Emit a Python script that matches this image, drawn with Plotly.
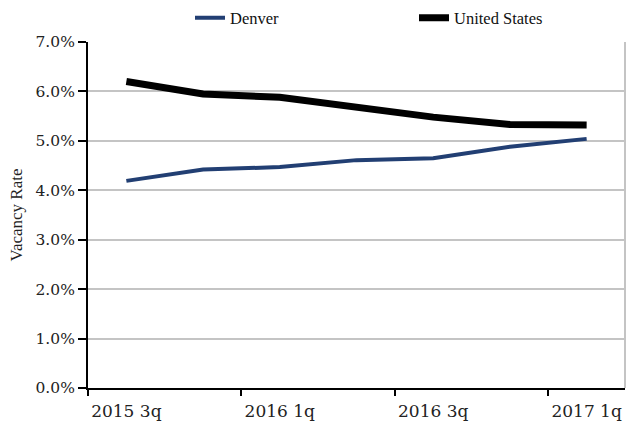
import plotly.graph_objects as go

quarters = ["2015 3q", "2015 4q", "2016 1q", "2016 2q", "2016 3q", "2016 4q", "2017 1q"]
denver = [4.19, 4.42, 4.47, 4.61, 4.65, 4.88, 5.04]
united_states = [6.20, 5.95, 5.88, 5.69, 5.48, 5.33, 5.32]

WIDE = "DejaVu Serif"
TIMES = "Liberation Serif"
W, H = 632, 421

fig = go.Figure()
fig.add_trace(go.Scatter(x=quarters, y=denver, name="Denver", mode="lines",
                         line=dict(color="#223f73", width=4), legend="legend"))
fig.add_trace(go.Scatter(x=quarters, y=united_states, name="United States", mode="lines",
                         line=dict(color="#000000", width=7), legend="legend2"))

leg_common = dict(orientation="h", xref="container", yref="container",
                  xanchor="left", yanchor="middle", y=1 - 18 / H,
                  font=dict(family=TIMES, size=16.5, color="#111"),
                  bgcolor="rgba(0,0,0,0)", borderwidth=0)

fig.update_layout(
    width=W, height=H,
    margin=dict(l=88, r=7, t=42, b=33, autoexpand=False),
    paper_bgcolor="white", plot_bgcolor="white",
    font=dict(family=WIDE, size=15, color="#222"),
    showlegend=True,
    legend=dict(x=190 / W, **leg_common),
    legend2=dict(x=414 / W, **leg_common),
    xaxis=dict(type="category", range=[-0.5, 6.5], dtick=2, tickson="boundaries",
               ticks="outside", ticklen=6, tickwidth=2, tickcolor="black",
               ticklabelstandoff=7,
               showline=True, linecolor="black", linewidth=2, automargin=False,
               showgrid=False, tickfont=dict(family=WIDE, size=17, color="#222")),
    yaxis=dict(range=[0, 7], dtick=1, tickformat=".1f", ticksuffix="%",
               ticks="outside", ticklen=8, tickwidth=2, tickcolor="black",
               showline=True, linecolor="black", linewidth=2, automargin=False,
               showgrid=True, gridcolor="#c4c4c4", gridwidth=2,
               zeroline=False,
               title=dict(text="Vacancy Rate", font=dict(family=TIMES, size=17, color="#222"), standoff=9),
               tickfont=dict(family=WIDE, size=15.5, color="#222")),
    shapes=[dict(type="line", xref="paper", yref="paper", x0=1, x1=1, y0=0, y1=1,
                 line=dict(color="#c4c4c4", width=2))],
)

fig.write_html("out.html", config={"displayModeBar": False},
               post_script="document.body.style.margin='0';document.body.style.padding='0';")
